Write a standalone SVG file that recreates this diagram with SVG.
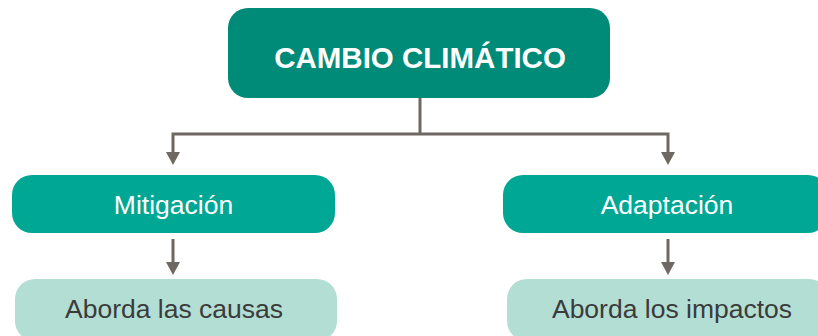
<svg xmlns="http://www.w3.org/2000/svg" width="818" height="336" viewBox="0 0 818 336">
<style>
.line{fill:none;stroke:#6e6862;stroke-width:3}
.head{fill:#6e6862}
.t{font-family:"Liberation Sans",Arial,sans-serif;text-anchor:middle}
</style>
<rect width="818" height="336" fill="#ffffff"/>
<g id="connectors">
<path class="line" d="M420 98 V134 M173 134 H668 M173 132.5 V153 M668 132.5 V153"/>
<polygon class="head" points="166,152 180,152 173,165"/>
<polygon class="head" points="661,152 675,152 668,165"/>
<path class="line" d="M173 239 V263 M668 239 V263"/>
<polygon class="head" points="166,262 180,262 173,275"/>
<polygon class="head" points="661,262 675,262 668,275"/>
</g>
<g id="cambio">
<rect x="228" y="8" width="382" height="90" rx="20" fill="#008b78"/>
<text class="t" x="420" y="68" font-size="29.5" font-weight="bold" fill="#ffffff">CAMBIO CLIMÁTICO</text>
</g>
<g id="mitigacion">
<rect x="12" y="175" width="323" height="58" rx="20" fill="#00a794"/>
<text class="t" x="173.5" y="214" font-size="26.5" fill="#ffffff">Mitigación</text>
</g>
<g id="adaptacion">
<rect x="503" y="175" width="325" height="58" rx="20" fill="#00a794"/>
<text class="t" x="667" y="214" font-size="26.5" fill="#ffffff">Adaptación</text>
</g>
<g id="causas">
<rect x="15" y="279" width="322" height="62" rx="20" fill="#b3ded4"/>
<text class="t" x="174" y="318" font-size="26.5" fill="#3b3b3b">Aborda las causas</text>
</g>
<g id="impactos">
<rect x="507" y="279" width="322" height="62" rx="20" fill="#b3ded4"/>
<text class="t" x="672" y="318" font-size="26.5" fill="#3b3b3b">Aborda los impactos</text>
</g>
</svg>
